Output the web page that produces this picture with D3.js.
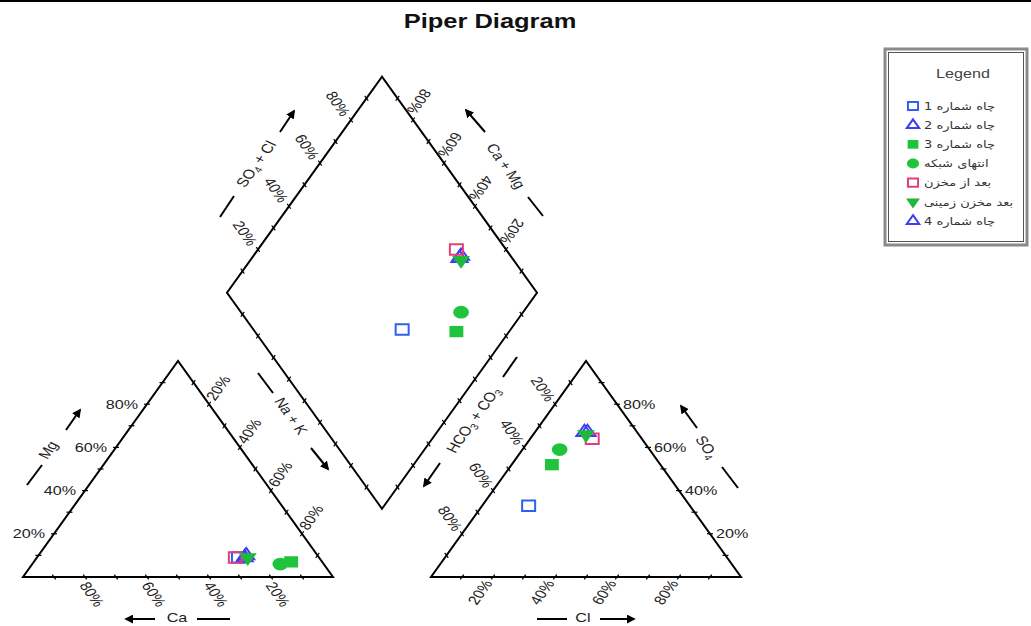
<!DOCTYPE html>
<html><head><meta charset="utf-8">
<script src="https://cdn.jsdelivr.net/npm/d3@7"></script>
<style>
body{margin:0;background:#fff}
svg{display:block}
text{font-family:"Liberation Sans",Arial,sans-serif;fill:#222}
</style>
</head><body>
<svg id="c" width="1031" height="626"></svg>
<script>
// ---- data ----
const categories = ["چاه شماره 1", "چاه شماره 2", "چاه شماره 3", "انتهای شبکه", "بعد از مخزن", "بعد مخزن زمینی", "چاه شماره 4"];
const ca   = [26, 24, 10, 14, 27, 23, 23];
const mg   = [9, 9, 7, 6, 9, 9, 10];
const naK  = [65, 67, 83, 80, 64, 68, 67];
const hco3 = [52, 16, 35, 29, 16, 17, 17];
const so4  = [33, 67, 52, 59, 64, 66, 67];
const cl   = [15, 17, 13, 12, 20, 17, 16];
const shapes  = ["square", "triangle", "square", "circle", "square", "triangleDown", "triangle"];
const filled  = [false, false, true, true, false, true, false];
const colors  = ["#2f5ff0", "#3c3cf0", "#1fc43c", "#1fc43c", "#e0407c", "#1fb83c", "#3c3cf0"];
const drawOrder = [0, 1, 6, 2, 3, 4, 5];
const tickValues = [20, 40, 60, 80];
const tickLabels = ["20%", "40%", "60%", "80%"];

// ---- layout ----
const svg = d3.select("#c");
const gap = 98 / 310;
const x = d3.scaleLinear().domain([0, 1]).range([23, 333]);
const y = d3.scaleLinear().domain([0, 1]).range([577, 361]);
const P = (u, v) => [x(u), y(v)];
const SX = (x(0.5) - x(0)) * Math.sqrt(3) / (y(0) - y(1)); // horizontal stretch of the drawing
const ang = Math.atan2(y(0) - y(1), x(0.5) - x(0)) * 180 / Math.PI;
const dPlus = [Math.cos(ang * Math.PI / 180), Math.sin(ang * Math.PI / 180)];
const dMinus = [dPlus[0], -dPlus[1]];
const dHor = [1, 0];
const tf = (tx, ty, rot) => `translate(${tx},${ty}) scale(${SX},1)` + (rot ? ` rotate(${rot})` : "");

const catPos = i => P((naK[i] + mg[i] / 2) / 100, mg[i] / 100);
const anPos = i => P(1 + gap + (cl[i] + so4[i] / 2) / 100, so4[i] / 100);
const diaPos = i => {
  const c = 1 - naK[i] / 100, a = 1 - hco3[i] / 100;
  return P(1 + gap / 2 + (a - c) / 2, gap + a + c);
};

// top rule and title
svg.append("line").attr("x1", 0).attr("x2", 1031).attr("y1", 1).attr("y2", 1)
  .attr("stroke", "#000").attr("stroke-width", 2);
svg.append("text").attr("transform", tf(490, 28)).attr("text-anchor", "middle")
  .style("font-size", "20.5px").style("font-weight", "bold").style("fill", "#111").text("Piper Diagram");

// defs arrow
svg.append("defs").append("marker").attr("id", "ah").attr("viewBox", "0 0 10 10")
  .attr("refX", 8).attr("refY", 5).attr("markerWidth", 9).attr("markerHeight", 9)
  .attr("markerUnits", "userSpaceOnUse").attr("orient", "auto")
  .append("path").attr("d", "M0,0L10,5L0,10z").attr("fill", "#000");

const line = d3.line();
const outlines = [
  [P(0, 0), P(1, 0), P(0.5, 1)],
  [P(1 + gap, 0), P(2 + gap, 0), P(1.5 + gap, 1)],
  [P(1 + gap / 2, gap), P(1.5 + gap / 2, gap + 1), P(1 + gap / 2, gap + 2), P(0.5 + gap / 2, gap + 1)]
];
svg.selectAll("path.outline").data(outlines).join("path").attr("class", "outline")
  .attr("d", d => line(d) + "Z").attr("fill", "none").attr("stroke", "#000").attr("stroke-width", 2);

// ticks
const tg = svg.append("g").attr("stroke", "#000").attr("stroke-width", 1.2);
function ticks(fn, dir) {
  for (let t = 10; t <= 90; t += 10) {
    const p = fn(t / 100);
    tg.append("line").attr("x1", p[0] - dir[0] * 3).attr("y1", p[1] - dir[1] * 3)
      .attr("x2", p[0] + dir[0] * 3).attr("y2", p[1] + dir[1] * 3);
  }
}
ticks(t => P(1 - t, 0), dPlus);                 // Ca
ticks(t => P(t / 2, t), dHor);                  // Mg
ticks(t => P(0.5 + t / 2, 1 - t), dMinus);      // Na+K
ticks(t => P(1 + gap + t, 0), dMinus);          // Cl
ticks(t => P(2 + gap - t / 2, t), dHor);        // SO4
ticks(t => P(1 + gap + (1 - t) / 2, 1 - t), dPlus); // HCO3
ticks(t => P(0.5 + gap / 2 + t / 2, gap + 1 + t), dPlus);  // SO4+Cl
ticks(t => P(1.5 + gap / 2 - t / 2, gap + 1 + t), dMinus); // Ca+Mg
ticks(t => P(1 + gap / 2 - t / 2, gap + t), dMinus);       // lower-left
ticks(t => P(1 + gap / 2 + t / 2, gap + t), dPlus);        // lower-right

// tick labels
const lg = svg.append("g").style("font-size", "13px");
function labels(fn, dx, dy, rot, anchor) {
  tickValues.forEach((v, i) => {
    const p = fn(v / 100);
    lg.append("text").attr("dy", "0.35em").attr("text-anchor", anchor)
      .attr("transform", tf(p[0] + dx, p[1] + dy, rot))
      .text(tickLabels[i]);
  });
}
labels(m => P(m / 2, m), -9, 0, 0, "end");                           // Mg
labels(c => P(1 - c, 0), -1, 6, 60, "start");                        // Ca
labels(n => P(0.5 + n / 2, 1 - n), 1, -5, -60, "start");             // Na+K
labels(c => P(1 + gap + c, 0), -5, 4, -60, "end");                   // Cl
labels(s => P(2 + gap - s / 2, s), 6, 0, 0, "start");                // SO4
labels(h => P(1 + gap + (1 - h) / 2, 1 - h), -4, -4, 60, "end");     // HCO3
labels(a => P(0.5 + gap / 2 + a / 2, gap + 1 + a), -5, -5, 60, "end"); // SO4+Cl
labels(c => P(1.5 + gap / 2 - c / 2, gap + 1 + c), -2, -7, 120, "end"); // Ca+Mg

// axis titles
const ag = svg.append("g");
function seg(x1, y1, x2, y2, arrow) {
  ag.append("line").attr("x1", x1).attr("y1", y1).attr("x2", x2).attr("y2", y2)
    .attr("stroke", "#000").attr("stroke-width", 2)
    .attr("marker-end", arrow ? "url(#ah)" : null);
}
function title(cx, cy, rot, parts) {
  const t = ag.append("text").attr("dy", "0.35em")
    .attr("text-anchor", "middle").style("font-size", "13px")
    .attr("transform", tf(cx, cy, rot));
  parts.forEach(([s, sub]) => {
    const sp = t.append("tspan").text(s);
    if (sub) sp.style("font-size", "9px").attr("dy", 3);
    else if (t.node().childNodes.length > 1) sp.attr("dy", -3);
  });
}
// Mg
seg(27, 485, 42, 465, false); title(48, 450, -60, [["Mg"]]); seg(66, 430, 80, 410, true);
// Ca
seg(155, 619, 126, 619, true); title(177, 617, 0, [["Ca"]]); seg(197, 619, 230, 619, false);
// Na + K
seg(258, 373, 273, 393, false); title(291, 416, 60, [["Na + K"]]); seg(311, 448, 328, 469, true);
// HCO3 + CO3
seg(517, 357, 503, 377, false);
title(473, 420, -60, [["HCO"], ["3", true], [" + CO"], ["3", true]]);
seg(440, 463, 424, 486, true);
// SO4 + Cl
seg(220, 217, 234, 196, false); title(256, 164, -60, [["SO"], ["4", true], [" + Cl"]]); seg(280, 132, 294, 111, true);
// Ca + Mg
seg(485, 132, 466, 110, true); title(506, 166, 60, [["Ca + Mg"]]); seg(528, 197, 543, 216, false);
// SO4
seg(697, 428, 681, 406, true); title(707, 447, 60, [["SO"], ["4", true]]); seg(722, 467, 738, 488, false);
// Cl
seg(537, 619, 567, 619, false); title(583, 617, 0, [["Cl"]]); seg(600, 619, 634, 619, true);

// ---- markers ----
function symPath(shape, size) {
  if (shape === "square") return d3.symbol(d3.symbolSquare, size)();
  if (shape === "circle") return d3.symbol(d3.symbolCircle, size)();
  return d3.symbol(d3.symbolTriangle, size)();
}
function drawMarker(g, i, p, scale) {
  const size = (shapes[i] === "triangle" ? 95 : shapes[i] === "triangleDown" ? 120 : filled[i] ? 165 : 145) * scale;
  const rot = shapes[i] === "triangleDown" ? " rotate(180)" : "";
  g.append("path").attr("d", symPath(shapes[i], size))
    .attr("transform", `translate(${p[0]},${p[1]}) scale(1.08,0.88)${rot}`)
    .attr("fill", filled[i] ? colors[i] : "none")
    .attr("stroke", colors[i]).attr("stroke-width", filled[i] ? 0 : 2)
    .attr("vector-effect", "non-scaling-stroke");
}
const mgp = svg.append("g");
drawOrder.forEach(i => {
  drawMarker(mgp, i, catPos(i), 1);
  drawMarker(mgp, i, anPos(i), 1);
  drawMarker(mgp, i, diaPos(i), 1);
});

// ---- legend ----
const leg = svg.append("g");
leg.append("rect").attr("x", 885).attr("y", 49).attr("width", 142).attr("height", 196)
  .attr("fill", "#fff").attr("stroke", "#8a8a8a").attr("stroke-width", 3);
leg.append("rect").attr("x", 888.5).attr("y", 52.5).attr("width", 135).attr("height", 189)
  .attr("fill", "none").attr("stroke", "#555").attr("stroke-width", 1);
leg.append("text").attr("transform", tf(963, 78)).attr("text-anchor", "middle")
  .style("font-size", "13px").style("fill", "#444").text("Legend");
const rowY = d3.scaleLinear().domain([0, 6]).range([106, 221]);
categories.forEach((c, i) => {
  drawMarker(leg, i, [913, rowY(i)], 0.6);
  leg.append("text").attr("dy", "0.35em").attr("transform", tf(924, rowY(i)))
    .attr("direction", "rtl").attr("text-anchor", "end")
    .style("font-family", "'DejaVu Sans', sans-serif").style("font-size", "10.5px").style("fill", "#333")
    .text(c);
});
</script>
</body></html>
